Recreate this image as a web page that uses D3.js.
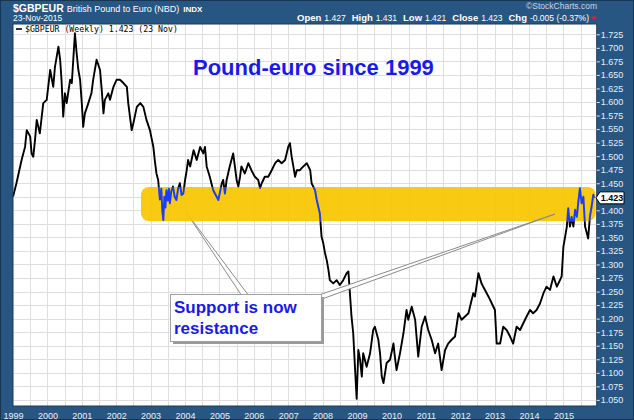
<!DOCTYPE html>
<html><head><meta charset="utf-8">
<script src="https://cdn.jsdelivr.net/npm/d3@7"></script>
<style>body{margin:0;background:#fff}svg{display:block}</style>
</head><body>
<svg id="c" width="634" height="420"></svg>
<script>
// ---- DATA ----
const times = [1999.00,1999.10,1999.25,1999.35,1999.40,1999.50,1999.54,1999.59,1999.64,1999.69,1999.78,1999.88,1999.98,
2000.08,2000.17,2000.22,2000.32,2000.37,2000.41,2000.46,2000.51,2000.56,2000.66,2000.71,2000.80,2000.85,2000.90,2000.95,
2001.00,2001.04,2001.09,2001.19,2001.28,2001.33,2001.43,2001.53,2001.58,2001.63,2001.67,2001.77,2001.82,2001.92,
2002.01,2002.11,2002.21,2002.31,2002.35,2002.45,2002.50,2002.60,2002.70,2002.79,2002.88,2002.98,
2003.08,2003.12,2003.17,2003.22,2003.27,2003.31,2003.34,2003.37,2003.40,2003.43,2003.46,2003.50,2003.53,2003.56,2003.60,2003.65,2003.70,2003.75,2003.80,2003.85,2003.90,2003.95,
2004.00,2004.05,2004.09,2004.15,2004.25,2004.34,2004.44,2004.53,2004.58,2004.63,2004.72,2004.82,2004.92,2004.97,
2005.07,2005.11,2005.16,2005.21,2005.30,2005.40,2005.45,2005.50,2005.55,2005.60,2005.64,2005.74,2005.84,2005.93,
2006.03,2006.13,2006.18,2006.23,2006.32,2006.42,2006.52,2006.62,2006.71,2006.81,2006.91,
2007.00,2007.05,2007.10,2007.15,2007.20,2007.25,2007.34,2007.44,2007.54,2007.64,2007.68,2007.78,2007.83,2007.92,2007.97,
2008.02,2008.07,2008.12,2008.17,2008.21,2008.31,2008.41,2008.50,2008.60,2008.70,2008.75,2008.80,2008.84,2008.89,2008.94,2008.99,
2009.04,2009.09,2009.14,2009.18,2009.28,2009.38,2009.47,2009.52,2009.62,2009.67,2009.72,2009.77,2009.86,2009.96,
2010.06,2010.10,2010.15,2010.25,2010.35,2010.44,2010.49,2010.59,2010.69,2010.78,2010.88,2010.98,
2011.07,2011.17,2011.27,2011.36,2011.46,2011.56,2011.65,2011.75,2011.85,2011.95,
2012.04,2012.14,2012.24,2012.38,2012.43,2012.53,2012.62,2012.72,2012.82,2012.92,
2013.01,2013.06,2013.16,2013.25,2013.35,2013.45,2013.54,2013.64,2013.74,2013.83,2013.93,
2014.03,2014.12,2014.22,2014.32,2014.42,2014.51,2014.61,2014.71,2014.81,2014.90,2014.95,
2015.00,2015.05,2015.10,2015.14,2015.19,2015.24,2015.29,2015.34,2015.39,2015.43,2015.48,2015.53,2015.58,2015.63,2015.68,2015.72,2015.77,2015.82,2015.87,2015.89];
const values = [1.425,1.450,1.493,1.517,1.548,1.536,1.505,1.499,1.530,1.567,1.542,1.598,1.604,
1.659,1.628,1.665,1.702,1.678,1.641,1.573,1.616,1.598,1.641,1.635,1.727,1.690,1.659,1.641,
1.598,1.554,1.579,1.598,1.616,1.641,1.678,1.659,1.622,1.579,1.604,1.616,1.604,1.628,
1.641,1.641,1.635,1.628,1.598,1.548,1.561,1.591,1.598,1.591,1.567,1.548,
1.517,1.493,1.468,1.456,1.420,1.440,1.400,1.382,1.425,1.405,1.437,1.418,1.440,1.413,1.435,1.444,1.425,1.419,1.440,1.450,1.428,1.431,
1.455,1.474,1.493,1.481,1.511,1.493,1.517,1.505,1.517,1.481,1.462,1.437,1.425,1.419,
1.450,1.456,1.431,1.456,1.481,1.505,1.481,1.456,1.444,1.462,1.481,1.468,1.487,1.474,
1.462,1.456,1.441,1.450,1.462,1.462,1.474,1.487,1.493,1.487,1.493,
1.517,1.524,1.499,1.481,1.462,1.474,1.474,1.481,1.487,1.474,1.450,1.437,1.419,1.394,1.351,
1.339,1.321,1.308,1.290,1.271,1.265,1.271,1.262,1.271,1.284,1.287,1.241,1.204,1.173,1.111,1.052,
1.142,1.124,1.093,1.136,1.111,1.136,1.179,1.185,1.161,1.136,1.093,1.081,1.118,1.124,
1.154,1.130,1.105,1.136,1.173,1.216,1.198,1.222,1.198,1.130,1.185,1.204,
1.179,1.161,1.136,1.154,1.105,1.142,1.154,1.161,1.167,1.210,
1.198,1.204,1.210,1.247,1.241,1.284,1.265,1.253,1.241,1.228,
1.216,1.154,1.154,1.185,1.179,1.167,1.154,1.185,1.179,1.191,1.204,
1.216,1.210,1.216,1.228,1.247,1.259,1.253,1.278,1.259,1.271,1.278,
1.333,1.351,1.370,1.404,1.370,1.388,1.370,1.401,1.388,1.413,1.441,1.413,1.425,1.370,1.358,1.348,1.388,1.407,1.429,1.423];
const yTickValues = [1.050,1.075,1.100,1.125,1.150,1.175,1.200,1.225,1.250,1.275,1.300,1.325,1.350,1.375,1.400,
  1.425,1.450,1.475,1.500,1.525,1.550,1.575,1.600,1.625,1.650,1.675,1.700,1.725];
const xTickYears = [1999,2000,2001,2002,2003,2004,2005,2006,2007,2008,2009,2010,2011,2012,2013,2014,2015];
const bandRange = [1.380, 1.443];
const bandStart = 2002.72;
const lastValue = 1.423;
const headerTitle = "$GBPEUR";
const headerDesc = "British Pound to Euro (NBD)";
const headerDate = "23-Nov-2015";
const ohlc = [["Open","1.427"],["High","1.431"],["Low","1.421"],["Close","1.423"],["Chg","-0.005 (-0.37%)"]];
const legendText = "$GBPEUR (Weekly) 1.423 (23 Nov)";
const chartTitle = "Pound-euro since 1999";
const calloutLines = ["Support is now","resistance"];

// ---- LAYOUT ----
const W = 634, H = 420;
const P = {l:13, r:596.7, t:24, b:406};
const navy = "#285682";
const svg = d3.select("#c");
const data = times.map((t,i)=>({t, v: values[i]}));

const x = d3.scaleLinear().domain([1999, 2015.968]).range([P.l, P.r]);
const y = d3.scaleLinear().domain([1.0387, 1.744]).range([P.b, P.t]);

svg.append("rect").attr("width",W).attr("height",H).attr("fill",navy);
svg.append("rect").attr("x",0.5).attr("y",0.5).attr("width",W-1).attr("height",H-1)
  .attr("fill","none").attr("stroke","#1a3550");

const defs = svg.append("defs");
defs.append("clipPath").attr("id","plotclip").append("rect")
  .attr("x",P.l).attr("y",P.t).attr("width",P.r-P.l).attr("height",P.b-P.t);
const bx0 = x(bandStart), bx1 = P.r - 1, by0 = y(bandRange[1]), by1 = y(bandRange[0]);
defs.append("clipPath").attr("id","bandclip").append("rect")
  .attr("x",bx0).attr("y",by0).attr("width",bx1-bx0).attr("height",by1-by0).attr("rx",8);

// plot background
svg.append("rect").attr("x",P.l).attr("y",P.t).attr("width",P.r-P.l).attr("height",P.b-P.t)
  .attr("fill","#fff");

// gridlines
const g = svg.append("g").attr("clip-path","url(#plotclip)");
const halfYears = d3.range(1999.5, 2016, 0.5);
g.selectAll("line.vg").data(halfYears).join("line")
  .attr("x1",d=>Math.round(x(d))+0.5).attr("x2",d=>Math.round(x(d))+0.5)
  .attr("y1",P.t).attr("y2",P.b).attr("stroke","#dedede").attr("stroke-width",1);
g.selectAll("line.hg").data(yTickValues).join("line")
  .attr("y1",d=>Math.round(y(d))+0.5).attr("y2",d=>Math.round(y(d))+0.5)
  .attr("x1",P.l).attr("x2",P.r).attr("stroke","#dedede").attr("stroke-width",1);

// callout pointers (under the band)
const ptr = svg.append("g");
ptr.append("path").attr("d","M186,212 L242,296 L249,296 Z").attr("fill","#fff").attr("stroke","#8a8a8a").attr("stroke-width",1);

// band
svg.append("rect").attr("x",bx0).attr("y",by0).attr("width",bx1-bx0).attr("height",by1-by0)
  .attr("rx",8).attr("fill","#f7c600").attr("opacity",0.93);

// line
const line = d3.line().x(d=>x(d.t)).y(d=>y(d.v));
g.append("path").datum(data).attr("d",line).attr("fill","none")
  .attr("stroke","#000").attr("stroke-width",1.9).attr("stroke-linejoin","round");
svg.append("path").datum(data).attr("d",line).attr("fill","none").attr("clip-path","url(#bandclip)")
  .attr("stroke","#1a3cff").attr("stroke-width",1.9).attr("stroke-linejoin","round");

// plot border
svg.append("rect").attr("x",P.l).attr("y",P.t).attr("width",P.r-P.l).attr("height",P.b-P.t)
  .attr("fill","none").attr("stroke","#1d3b58").attr("stroke-width",1);

// right axis
const yAxis = d3.axisRight(y).tickValues(yTickValues).tickSize(3).tickPadding(1).tickFormat(d3.format(".3f"));
const ya = svg.append("g").attr("transform",`translate(${P.r},0)`).call(yAxis);
ya.select(".domain").remove();
ya.selectAll("line").attr("stroke","#e0e8f0");
ya.selectAll("text").attr("fill","#e8eef5").attr("font-family","Liberation Sans, Arial, sans-serif").attr("font-size",9);

// bottom axis labels
const xAxis = d3.axisBottom(x).tickValues(xTickYears).tickSize(0).tickPadding(7).tickFormat(d3.format("d"));
const xa = svg.append("g").attr("transform",`translate(0,${P.b})`).call(xAxis);
xa.select(".domain").remove();
xa.selectAll("text").attr("fill","#e8eef5").attr("font-family","Liberation Sans, Arial, sans-serif").attr("font-size",9);

// header
const hf = "Liberation Sans, Arial, sans-serif";
const h1 = svg.append("text").attr("x",13).attr("y",12).attr("fill","#fff").attr("font-family",hf);
h1.append("tspan").attr("font-size",10.5).attr("font-weight","bold").text(headerTitle);
h1.append("tspan").attr("font-size",9).attr("dx",3).text(headerDesc);
h1.append("tspan").attr("font-size",8).attr("font-weight","bold").attr("dx",4).text("INDX");
svg.append("text").attr("x",13).attr("y",20.5).attr("fill","#fff").attr("font-family",hf).attr("font-size",8.5).text(headerDate);
svg.append("text").attr("x",597).attr("y",9).attr("text-anchor","end").attr("fill","#c9d5e2")
  .attr("font-family",hf).attr("font-size",8.5).text("©StockCharts.com");
const oh = svg.append("text").attr("x",589).attr("y",20.5).attr("text-anchor","end").attr("fill","#fff").attr("font-family",hf);
ohlc.forEach(([k,v],i)=>{
  oh.append("tspan").attr("font-weight","bold").attr("font-size",9.5).attr("dx", i? 6:0).text(k);
  oh.append("tspan").attr("font-size",8.5).attr("dx",3).text(v);
});
svg.append("path").attr("d","M591,16.5 L597,16.5 L594,20.5 Z").attr("fill","#e0203a");

// legend
svg.append("line").attr("x1",16).attr("x2",22).attr("y1",29).attr("y2",29).attr("stroke","#000").attr("stroke-width",1.6);
svg.append("text").attr("x",25).attr("y",32).attr("fill","#000").attr("font-family","DejaVu Sans Mono, monospace")
  .attr("font-size",8.2).text(legendText);

// title
svg.append("text").attr("x",193).attr("y",75).attr("fill","#1a1ae6").attr("font-family",hf)
  .attr("font-weight","bold").attr("font-size",22).text(chartTitle);

// callout right pointer and box
const co = svg.append("g");
co.append("path").attr("d","M555,214 L316,296 L322,299 Z").attr("fill","#fff").attr("stroke","#8a8a8a").attr("stroke-width",1);
co.append("rect").attr("x",173).attr("y",297).attr("width",151).attr("height",47).attr("fill","#9a9a9a");
co.append("rect").attr("x",170.5).attr("y",294.5).attr("width",151).attr("height",47).attr("fill","#fff").attr("stroke","#a0a0a0");
co.selectAll("text").data(calloutLines).join("text")
  .attr("x",174).attr("y",(d,i)=>313+i*21).attr("fill","#1a1ae6").attr("font-family",hf)
  .attr("font-weight","bold").attr("font-size",17).text(d=>d);

// last value tag
const ly = y(lastValue);
svg.append("path").attr("d",`M596,${ly} L600,${ly-6} L624,${ly-6} L624,${ly+6} L600,${ly+6} Z`)
  .attr("fill","#fff").attr("stroke","#000").attr("stroke-width",1);
svg.append("text").attr("x",612).attr("y",ly+3.5).attr("text-anchor","middle").attr("fill","#000")
  .attr("font-family",hf).attr("font-weight","bold").attr("font-size",9).text(lastValue.toFixed(3));
</script>
</body></html>
